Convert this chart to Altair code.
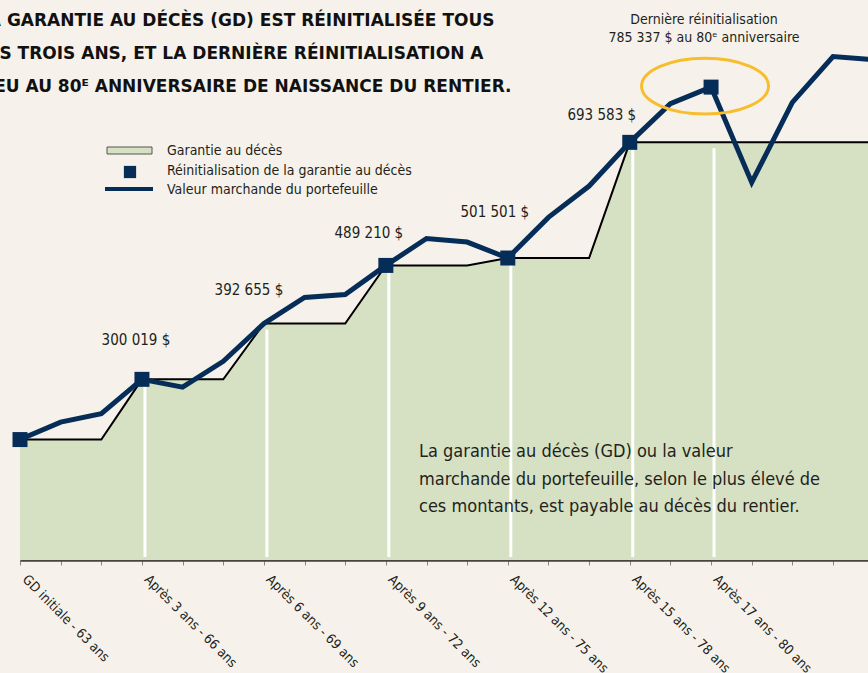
import altair as alt
import pandas as pd

# ---------------- data ----------------
step = list(range(22))
gd_values = [200000, 200000, 200000, 300019, 300019, 300019, 392655, 392655, 392655,
             489210, 489210, 489210, 501501, 501501, 501501, 693583, 693583, 693583,
             693583, 693583, 693583, 693583]
mv_values = [200000, 229000, 243000, 300019, 287000, 330000, 392655, 436000, 441000,
             489210, 534000, 528000, 501501, 569000, 621000, 693583, 758000, 785337,
             627000, 760000, 836000, 831000]

tick_steps = [0, 3, 6, 9, 12, 15, 17]
tick_labels = ["GD initiale - 63 ans", "Après 3 ans - 66 ans", "Après 6 ans - 69 ans",
               "Après 9 ans - 72 ans", "Après 12 ans - 75 ans", "Après 15 ans - 78 ans",
               "Après 17 ans - 80 ans"]

square_steps = [0, 3, 9, 12, 15, 17]
white_steps = [3, 6, 9, 12, 15, 17]

label_steps = [3, 6, 9, 12, 15]
label_texts = ["300 019 $", "392 655 $", "489 210 $", "501 501 $", "693 583 $"]
label_dx = [-6, -15, -17, -13, -28]
label_dy = [-39, -34, -32, -46, -27]

title_lines = ["LA GARANTIE AU DÉCÈS (GD) EST RÉINITIALISÉE TOUS",
               "LES TROIS ANS, ET LA DERNIÈRE RÉINITIALISATION A",
               "LIEU AU 80ᴱ ANNIVERSAIRE DE NAISSANCE DU RENTIER."]
legend_texts = ["Garantie au décès", "Réinitialisation de la garantie au décès",
                "Valeur marchande du portefeuille"]
note_text = ["La garantie au décès (GD) ou la valeur",
             "marchande du portefeuille, selon le plus élevé de",
             "ces montants, est payable au décès du rentier."]
peak_text = ["Dernière réinitialisation", "785 337 $ au 80ᵉ anniversaire"]

# ---------------- styling ----------------
BG = "#f6f2eb"
GREEN = "#d6e1c3"
NAVY = "#062d57"
ORANGE = "#f7bd2d"
INK = "#231f20"
COND = "Liberation Sans Narrow, DejaVu Sans Condensed, Arial Narrow, sans-serif"
BOLD = "DejaVu Sans, Noto Sans, sans-serif"

W, H = 848, 560
XMAX = 20.861
YMAX = 930000

df = pd.DataFrame({"step": step, "gd": gd_values, "mv": mv_values})
one = pd.DataFrame({"k": [0]})

xs = alt.Scale(domain=[0, XMAX], nice=False, zero=False)
ys = alt.Scale(domain=[0, YMAX], nice=False)

label_expr = " : ".join(
    [f"datum.value == {s} ? '{t}'" for s, t in zip(tick_steps, tick_labels)]) + " : ''"

x_axis = alt.Axis(values=list(range(21)), labelExpr=label_expr, labelAngle=45,
                  labelAlign="left", labelBaseline="top", labelPadding=7,
                  labelOffset=9,
                  tickSize=5, tickColor="#8a877e", tickWidth=1,
                  domainColor="#45443d", domainWidth=2.5,
                  labelFont=COND, labelFontSize=13.5, labelColor=INK,
                  grid=False, title=None, labelOverlap=False, labelBound=False,
                  labelFlush=False)

base = alt.Chart(df)

area = base.mark_area(color=GREEN, clip=True, interpolate="linear").encode(
    x=alt.X("step:Q", scale=xs, axis=x_axis),
    y=alt.Y("gd:Q", scale=ys, axis=None),
)

whites = base.transform_filter(
    alt.FieldOneOfPredicate(field="step", oneOf=white_steps)
).mark_rule(color="white", strokeWidth=3, xOffset=3, yOffset=6, y2Offset=-3).encode(
    x=alt.X("step:Q", scale=xs),
    y=alt.Y("gd:Q", scale=ys),
    y2=alt.datum(0),
)

gd_line = base.mark_line(color="black", strokeWidth=2, clip=True).encode(
    x=alt.X("step:Q", scale=xs),
    y=alt.Y("gd:Q", scale=ys),
)

mv_line = base.mark_line(color=NAVY, strokeWidth=5, clip=True, strokeJoin="miter").encode(
    x=alt.X("step:Q", scale=xs),
    y=alt.Y("mv:Q", scale=ys),
)

squares = base.transform_filter(
    alt.FieldOneOfPredicate(field="step", oneOf=square_steps)
).mark_square(size=225, color=NAVY, opacity=1, filled=True).encode(
    x=alt.X("step:Q", scale=xs),
    y=alt.Y("mv:Q", scale=ys),
)

value_labels = []
for s, t, dx, dy in zip(label_steps, label_texts, label_dx, label_dy):
    value_labels.append(
        base.transform_filter(alt.datum.step == s).mark_text(
            text=t, font=COND, fontSize=15, color=INK, align="center",
            baseline="middle", dx=dx, dy=dy
        ).encode(x=alt.X("step:Q", scale=xs), y=alt.Y("mv:Q", scale=ys))
    )

ellipse_path = "M -1 0 A 1 0.44 0 1 0 1 0 A 1 0.44 0 1 0 -1 0 Z"
ellipse = base.transform_filter(alt.datum.step == 17).mark_point(
    shape=ellipse_path, size=16129, filled=False, stroke=ORANGE, strokeWidth=3,
    opacity=1, xOffset=-6, yOffset=-1
).encode(x=alt.X("step:Q", scale=xs), y=alt.Y("mv:Q", scale=ys))

peak = base.transform_filter(alt.datum.step == 17).mark_text(
    text=peak_text, lineHeight=18, font=COND, fontSize=14, color=INK,
    align="center", baseline="middle", dx=-7, dy=-67
).encode(x=alt.X("step:Q", scale=xs), y=alt.Y("mv:Q", scale=ys))

note = alt.Chart(one).mark_text(
    text=note_text, lineHeight=27.5, font=COND, fontSize=18, color=INK,
    align="left", baseline="middle"
).encode(x=alt.value(399), y=alt.value(452))

title = alt.Chart(one).mark_text(
    text=title_lines, lineHeight=33, font=BOLD, fontSize=17, fontWeight="bold",
    color="#111111", align="left", baseline="middle"
).encode(x=alt.value(-43), y=alt.value(21))

leg_rect = alt.Chart(one).mark_rect(fill=GREEN, stroke="#555555", strokeWidth=1).encode(
    x=alt.value(87), x2=alt.value(132), y=alt.value(147), y2=alt.value(154))
leg_sq = alt.Chart(one).mark_square(size=150, color=NAVY, opacity=1, filled=True).encode(
    x=alt.value(110), y=alt.value(172))
leg_line = alt.Chart(one).mark_rule(color=NAVY, strokeWidth=4).encode(
    x=alt.value(85), x2=alt.value(133), y=alt.value(189))
leg_text = alt.Chart(one).mark_text(
    text=legend_texts, lineHeight=19.5, font=COND, fontSize=14, color=INK,
    align="left", baseline="middle"
).encode(x=alt.value(147), y=alt.value(151))

chart = alt.layer(
    area, whites, gd_line, mv_line, squares, *value_labels, ellipse, peak, note,
    title, leg_rect, leg_sq, leg_line, leg_text
).properties(
    width=W, height=H,
    padding={"left": 20, "top": 0, "right": 0, "bottom": 113},
    autosize=alt.AutoSizeParams(type="none"),
    background=BG,
).configure_view(stroke=None)

chart.save("out.html", embed_options={"renderer": "svg", "actions": False})
